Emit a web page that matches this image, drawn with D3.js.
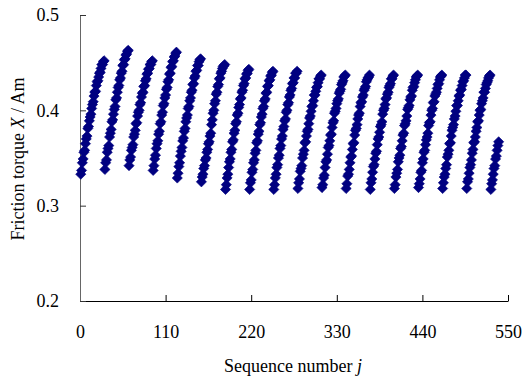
<!DOCTYPE html>
<html>
<head>
<meta charset="utf-8">
<script src="https://cdn.jsdelivr.net/npm/d3@7"></script>
<style>
    body { margin: 0; background: #fff; }
    svg { display: block; }
    text { font-family: "Liberation Serif", "Times New Roman", serif; fill: #000; }
</style>
</head>
<body>
<svg id="canvas" width="525" height="379"></svg>
<script>
// friction torque per test cycle (31 runs each)
var c0 = [.333, .337, .345, .349, .356, .358, .365, .370, .373, .381, .383, .389, .393, .396, .402, .406, .409, .415, .419, .420, .426, .430, .431, .435, .439, .440, .444, .448, .448, .451, .452];
var c1 = [.338, .345, .348, .356, .360, .363, .372, .376, .380, .388, .390, .396, .401, .404, .411, .413, .419, .424, .426, .432, .434, .439, .441, .447, .448, .453, .454, .458, .459, .462, .463];
var c2 = [.342, .348, .351, .358, .361, .364, .372, .375, .379, .386, .387, .394, .398, .400, .406, .408, .414, .418, .419, .425, .426, .431, .433, .438, .439, .443, .444, .448, .448, .451, .452];
var c3 = [.337, .342, .349, .353, .360, .365, .368, .375, .378, .386, .388, .395, .398, .405, .407, .413, .416, .422, .424, .430, .432, .438, .439, .445, .446, .451, .452, .456, .457, .460, .461];
var c4 = [.329, .334, .341, .345, .352, .357, .361, .368, .371, .378, .381, .388, .392, .395, .402, .404, .410, .413, .419, .421, .427, .428, .434, .436, .441, .442, .447, .447, .451, .453, .454];
var c5 = [.325, .330, .333, .339, .342, .348, .350, .356, .359, .365, .367, .373, .376, .385, .390, .397, .400, .407, .410, .417, .419, .425, .427, .433, .434, .439, .441, .444, .446, .447, .448];
var c6 = [.317, .322, .329, .333, .340, .346, .349, .356, .359, .367, .369, .376, .379, .386, .388, .395, .397, .403, .406, .412, .413, .419, .421, .426, .428, .433, .434, .438, .439, .442, .443];
var c7 = [.317, .324, .327, .335, .338, .345, .348, .355, .358, .366, .368, .375, .378, .385, .387, .393, .396, .402, .404, .410, .412, .418, .419, .425, .426, .431, .432, .436, .437, .440, .441];
var c8 = [.317, .322, .329, .333, .340, .343, .350, .353, .360, .363, .370, .373, .380, .383, .389, .391, .398, .400, .406, .408, .414, .416, .421, .423, .428, .429, .434, .434, .439, .439, .441];
var c9 = [.318, .324, .328, .336, .339, .342, .350, .354, .358, .366, .367, .373, .378, .380, .386, .392, .394, .399, .404, .405, .410, .416, .416, .420, .424, .425, .429, .433, .433, .436, .437];
var c10 = [.319, .322, .329, .332, .340, .346, .348, .354, .361, .363, .368, .374, .375, .382, .387, .389, .397, .399, .402, .407, .410, .412, .418, .420, .422, .427, .429, .431, .435, .436, .437];
var c11 = [.318, .323, .331, .333, .338, .345, .351, .352, .359, .365, .366, .374, .379, .381, .385, .391, .395, .397, .404, .408, .409, .414, .416, .421, .423, .425, .430, .432, .434, .435, .437];
var c12 = [.317, .324, .328, .335, .341, .343, .349, .355, .357, .364, .370, .372, .377, .383, .385, .388, .396, .400, .402, .406, .412, .413, .417, .419, .424, .426, .428, .433, .433, .436, .437];
var c13 = [.318, .322, .330, .334, .338, .346, .350, .353, .360, .362, .368, .374, .376, .384, .386, .389, .394, .401, .403, .405, .411, .414, .415, .421, .424, .425, .429, .432, .435, .436, .437];
var c14 = [.319, .323, .328, .335, .337, .345, .349, .356, .358, .364, .369, .372, .376, .384, .387, .388, .395, .400, .402, .408, .409, .415, .417, .419, .423, .427, .428, .432, .435, .436, .437];
var c15 = [.318, .324, .330, .333, .339, .343, .351, .354, .358, .365, .366, .373, .379, .382, .385, .391, .394, .399, .405, .405, .410, .415, .416, .421, .422, .426, .430, .431, .434, .437, .437];
var c16 = [.318, .325, .328, .334, .340, .343, .348, .355, .359, .366, .367, .372, .378, .382, .388, .389, .395, .400, .401, .407, .410, .413, .419, .419, .423, .427, .429, .431, .434, .436, .437];
var c17 = [.317, .323, .327, .333, .339, .342, .349, .352, .358, .363, .367];

var xTicks = [0, 110, 220, 330, 440, 550];
var yTicks = [0.2, 0.3, 0.4, 0.5];

var torque = [].concat(c0, c1, c2, c3, c4, c5, c6, c7, c8, c9, c10, c11, c12, c13, c14, c15, c16, c17);
var data = torque.map(function (v, i) {
    return { j: i + 1, X: v };
});

var canvas = d3.select('#canvas');

var x = d3.scaleLinear().domain([0, 550]).range([80, 508]);
var y = d3.scaleLinear().domain([0.2, 0.5]).range([301, 15]);

// axes with ticks pointing into the plot
canvas.append('g')
    .attr('transform', 'translate(0,301)')
    .call(d3.axisBottom(x).tickValues(xTicks).tickSizeInner(-6).tickSizeOuter(0).tickPadding(24))
    .call(function (g) {
        g.select('.domain').attr('stroke', '#000');
        g.selectAll('.tick line').attr('stroke', '#000');
        g.selectAll('text').attr('font-size', 18).attr('font-family', null);
    });

canvas.append('g')
    .attr('transform', 'translate(80,0)')
    .call(d3.axisLeft(y).tickValues(yTicks).tickFormat(d3.format('.1f')).tickSizeInner(-6).tickSizeOuter(0).tickPadding(21))
    .call(function (g) {
        g.select('.domain').attr('stroke', '#666');
        g.selectAll('.tick line').attr('stroke', '#333');
        g.selectAll('text').attr('font-size', 18).attr('font-family', null);
    });

var diamond = d3.symbol().type(d3.symbolSquare).size(52);

canvas.append('g')
    .selectAll('path')
    .data(data)
    .enter()
    .append('path')
    .attr('d', diamond)
    .attr('transform', function (d) {
        return 'translate(' + x(d.j) + ',' + y(d.X) + ') rotate(45)';
    })
    .attr('fill', '#000080')
    .attr('stroke', '#000080')
    .attr('stroke-width', 0.6);

// axis titles
var xt = canvas.append('text')
    .attr('x', 293)
    .attr('y', 372)
    .attr('text-anchor', 'middle')
    .attr('font-size', 18);
xt.append('tspan').text('Sequence number ');
xt.append('tspan').attr('font-style', 'italic').text('j');

var yt = canvas.append('text')
    .attr('transform', 'translate(24,159) rotate(-90)')
    .attr('text-anchor', 'middle')
    .attr('font-size', 18);
yt.append('tspan').text('Friction torque ');
yt.append('tspan').attr('font-style', 'italic').text('X');
yt.append('tspan').text(' / Am');
</script>
</body>
</html>
